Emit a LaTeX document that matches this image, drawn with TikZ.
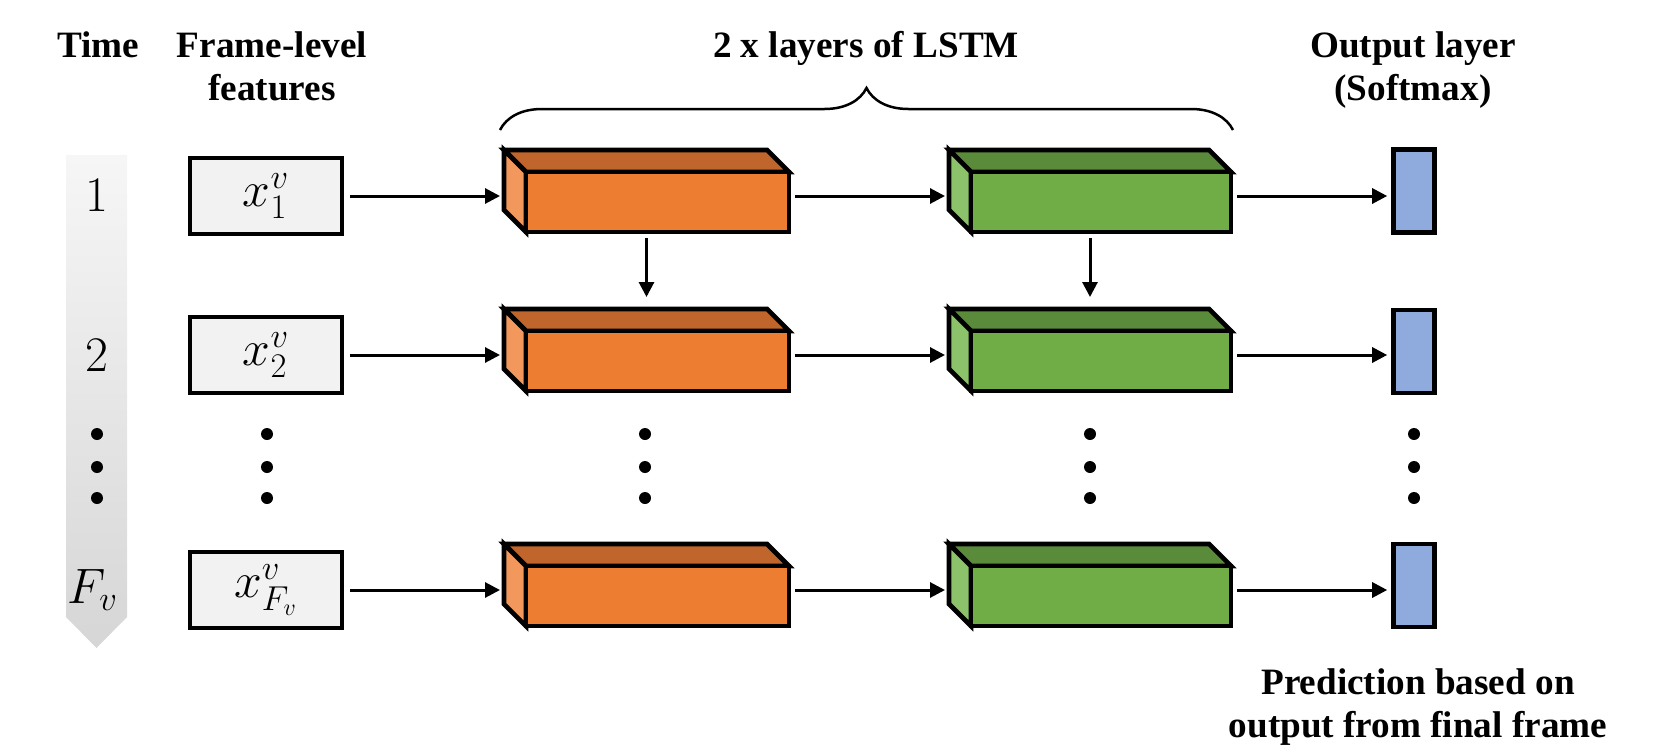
\documentclass[tikz,border=0pt]{standalone}
\usepackage{fontspec}
\setmainfont{Liberation Serif}
\usetikzlibrary{arrows.meta,decorations.pathreplacing}

\definecolor{orFront}{HTML}{ED7D31}
\definecolor{orTop}{HTML}{C0652B}
\definecolor{orSide}{HTML}{F2985C}
\definecolor{grFront}{HTML}{70AD47}
\definecolor{grTop}{HTML}{5A8B3A}
\definecolor{grSide}{HTML}{8CC26A}
\definecolor{softFill}{HTML}{8FAADC}
\definecolor{featFill}{HTML}{F2F2F2}
\definecolor{timeTop}{HTML}{F6F6F6}
\definecolor{timeBot}{HTML}{D6D6D6}

\tikzset{
  header/.style={font=\fontsize{18.6}{21.5}\selectfont\bfseries, align=center, inner sep=0pt, anchor=base},
  mathlbl/.style={font=\fontsize{24}{28}\selectfont, inner sep=0pt},
  conn/.style={line width=1.5pt, -{Triangle[length=7.5pt,width=7.5pt]}, shorten <=3pt, shorten >=2pt},
  featbox/.style={draw, line width=2.3pt, fill=featFill, minimum width=76pt, minimum height=38pt, inner sep=0pt, font=\fontsize{26}{30}\selectfont},
  softbox/.style={draw, line width=2.3pt, fill=softFill, minimum width=20.5pt, minimum height=41.5pt, inner sep=0pt},
  vdot/.style={circle, fill=black, minimum size=6pt, inner sep=0pt},
  face/.style={draw, line width=2.3pt},
}

% 3D LSTM block: name, left x, top y, front width, colour family
\newcommand\prism[5]{%
  \filldraw[face, fill=#5Top] (#2,#3) -- ++(#4,0) -- ++(22,22) -- ++(-#4,0) -- cycle;
  \filldraw[face, fill=#5Side] (#2,#3) -- ++(22,22) -- ++(0,60) -- ++(-22,-22) -- cycle;
  \filldraw[face, fill=#5Front] (#2+22,#3+22) rectangle ++(#4,60);
  \node[inner sep=0pt, outer sep=0pt, minimum width={(#4+22)*0.5pt}, minimum height=41pt,
        anchor=north west] (#1) at (#2,#3) {};%
}

\begin{document}
\begin{tikzpicture}[x=0.5pt, y=-0.5pt]
\useasboundingbox (0,0) rectangle (1666,750);

% column headings (two-line nodes are anchored at their last baseline)
\node[header] (hTime) at (98,57) {Time};
\node[header] (hFeat) at (272,100) {Frame-level\\features};
\node[header] (hLstm) at (866,57) {2 x layers of LSTM};
\node[header] (hOut) at (1413,100) {Output layer\\(Softmax)};
\node[header] (hPred) at (1418,737) {Prediction based on\\output from final frame};

% brace over the two LSTM layers
\draw[line width=1.25pt, decorate, decoration={brace, amplitude=21pt}] (500,130) -- (1233,130);

% time axis
\shade[top color=timeTop, bottom color=timeBot]
  (66,155) -- (127,155) -- (127,617) -- (96.5,648) -- (66,617) -- cycle;
\node[mathlbl] (t1) at (97,195) {$1$};
\node[mathlbl] (t2) at (97,355) {$2$};
\node[mathlbl] (t3) at (93,590) {$F_v$};

% frame-level features
\node[featbox] (x1) at (266,196) {$x^{v}_{1}$};
\node[featbox] (x2) at (266,355) {$x^{v}_{2}$};
\node[featbox] (x3) at (266,590) {$x^{v}_{F_v}$};

% LSTM layers
\prism{o1}{504}{150}{263}{or}
\prism{o2}{504}{309}{263}{or}
\prism{o3}{504}{544}{263}{or}
\prism{g1}{949}{150}{260}{gr}
\prism{g2}{949}{309}{260}{gr}
\prism{g3}{949}{544}{260}{gr}

% softmax outputs
\node[softbox] (s1) at (1414,191) {};
\node[softbox] (s2) at (1414,351.5) {};
\node[softbox] (s3) at (1414,585.5) {};

% connections
\foreach \r in {1,2,3}{
  \draw[conn] (x\r) -- (x\r -| o\r.west);
  \draw[conn] (o\r.east |- x\r) -- (g\r.west |- x\r);
  \draw[conn] (g\r.east |- x\r) -- (s\r.west |- x\r);
}
\draw[conn, shorten <=3pt, shorten >=6pt] (o1.south) -- (o2.north);
\draw[conn, shorten <=3pt, shorten >=6pt] (g1.south) -- (g2.north);

% ellipsis dots
\foreach \cx in {97,267,645,1090,1414}{
  \foreach \cy in {434,467,498}{
    \node[vdot] at (\cx,\cy) {};
  }
}
\end{tikzpicture}
\end{document}
